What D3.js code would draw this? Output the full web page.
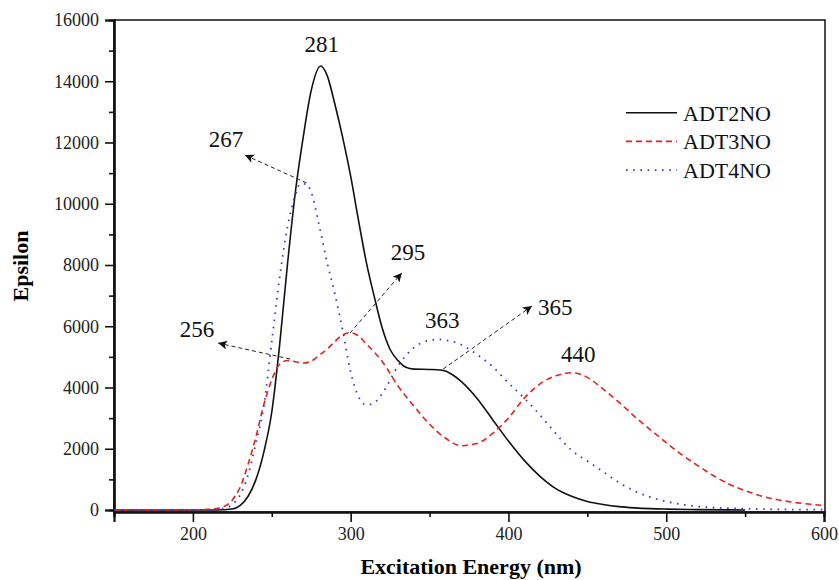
<!DOCTYPE html>
<html lang="en">
<head>
<meta charset="UTF-8">
<title>Epsilon vs excitation energy</title>
<script src="https://d3js.org/d3.v7.min.js"></script>
<style>
  body { margin: 0; background: #fff; }
  svg, svg text { font-family: "Liberation Serif", "Times New Roman", serif !important; }
  .tick text { font-size: 18px; fill: #222; }
  .axis-title { font-size: 22px; font-weight: bold; }
  .note { font-size: 23px; fill: #111; }
  .legend text { font-size: 22px; fill: #111; }
</style>
</head>
<body>
<div id="container"></div>
<script>
// wavelengths (nm) and epsilon values
const adt2Wl = [150, 170, 190, 210, 220, 225, 230, 235, 240, 245, 250, 255, 260, 265, 270, 275, 281, 285, 290, 295, 300, 305, 310, 315, 320, 325, 330, 335, 340, 350, 355, 360, 365, 370, 380, 390, 400, 410, 420, 430, 440, 450, 460, 470, 480, 490, 500, 520, 550];
const adt2Eps = [0, 0, 0, 0, 10, 30, 150, 450, 1000, 1900, 3200, 5400, 8050, 10400, 12200, 13700, 14500, 14200, 13250, 12150, 10900, 9450, 8070, 6960, 5940, 5240, 4880, 4660, 4600, 4590, 4580, 4540, 4400, 4200, 3650, 2950, 2250, 1620, 1100, 700, 450, 280, 180, 110, 70, 45, 30, 12, 0];

const adt3Wl = [150, 170, 190, 210, 220, 225, 230, 235, 240, 245, 250, 255, 260, 265, 270, 275, 280, 285, 290, 295, 300, 305, 310, 320, 330, 340, 350, 360, 370, 380, 390, 400, 410, 420, 430, 440, 450, 460, 470, 480, 490, 500, 510, 520, 530, 540, 550, 560, 570, 580, 590, 600];
const adt3Eps = [0, 0, 0, 20, 120, 330, 750, 1500, 2400, 3450, 4250, 4760, 4880, 4840, 4800, 4860, 5050, 5250, 5500, 5720, 5790, 5680, 5420, 4850, 4050, 3400, 2800, 2350, 2100, 2170, 2500, 3000, 3650, 4120, 4380, 4480, 4330, 3950, 3520, 3050, 2620, 2200, 1800, 1450, 1120, 840, 630, 460, 340, 255, 195, 150];

const adt4Wl = [150, 170, 190, 210, 220, 225, 230, 235, 240, 245, 250, 255, 260, 265, 268, 272, 275, 280, 285, 290, 295, 300, 305, 310, 315, 320, 330, 340, 350, 355, 360, 370, 380, 390, 400, 410, 420, 430, 440, 450, 460, 470, 480, 490, 500, 510, 520, 540, 560, 580, 600];
const adt4Eps = [0, 0, 0, 0, 60, 180, 500, 1150, 2200, 3400, 5500, 7600, 9250, 10300, 10650, 10640, 10380, 9300, 8100, 7050, 5850, 4500, 3700, 3430, 3500, 3800, 4700, 5300, 5540, 5570, 5550, 5400, 5080, 4680, 4150, 3650, 3100, 2500, 1950, 1600, 1250, 900, 620, 420, 280, 180, 115, 60, 30, 15, 10];

const seriesNames = ["ADT2NO", "ADT3NO", "ADT4NO"];

// peak labels: [text, wavelength, epsilon] (text anchored at its middle, baseline)
const peakLabels = [
  ["281", 281.7, 14950],
  ["267", 221, 11850],
  ["295", 336.4, 8160],
  ["256", 202.6, 5650],
  ["363", 358, 5940],
  ["365", 429.6, 6370],
  ["440", 444.2, 4830]
];
// arrows: [from wl, from eps, to wl, to eps]
const arrows = [
  [272, 10680, 233, 11590],
  [261.6, 4930, 216, 5450],
  [299.6, 5780, 332.4, 7740],
  [358.6, 4600, 414.9, 6660]
];

const xTicks = [200, 300, 400, 500, 600];
const yTicks = [0, 2000, 4000, 6000, 8000, 10000, 12000, 14000, 16000];

const width = 839, height = 580;
const mLeft = 114, mRight = 824, mTop = 20, mBottom = 510;

const svg = d3.select("#container").append("svg")
  .attr("width", width)
  .attr("height", height);

const x = d3.scaleLinear().domain([150, 600]).range([mLeft, mRight]);
const y = d3.scaleLinear().domain([0, 16000]).range([mBottom, mTop]);

// arrow marker
svg.append("defs").append("marker")
  .attr("id", "head")
  .attr("viewBox", "0 0 10 10")
  .attr("refX", 10).attr("refY", 5)
  .attr("markerWidth", 14).attr("markerHeight", 9)
  .attr("markerUnits", "userSpaceOnUse")
  .attr("orient", "auto")
  .append("path")
  .attr("d", "M0,0 L10,5 L0,10 L2.5,5 Z")
  .attr("fill", "#111");

// frame
svg.append("rect")
  .attr("x", mLeft).attr("y", mTop)
  .attr("width", x(600) - mLeft + 1).attr("height", mBottom + 2 - mTop)
  .attr("fill", "none").attr("stroke", "#111").attr("stroke-width", 1.5);

// x axis
svg.append("g").attr("class", "axis").attr("transform", `translate(0,${mBottom + 2})`)
  .call(d3.axisBottom(x).tickValues(xTicks).tickSize(10).tickPadding(5).tickFormat(d3.format("d")));
svg.append("g").attr("class", "axis").attr("transform", `translate(0,${mBottom + 2})`)
  .call(d3.axisBottom(x).tickValues([150, 250, 350, 450, 550]).tickSize(5).tickFormat(""));

// y axis
svg.append("g").attr("class", "axis").attr("transform", `translate(${mLeft},0)`)
  .call(d3.axisLeft(y).tickValues(yTicks).tickSize(9).tickPadding(6).tickFormat(d3.format("d")));
svg.append("g").attr("class", "axis").attr("transform", `translate(${mLeft},0)`)
  .call(d3.axisLeft(y).tickValues(d3.range(1000, 16000, 2000)).tickSize(5).tickFormat(""));

svg.selectAll(".axis").attr("font-family", null).attr("font-size", null);
svg.selectAll(".domain").attr("stroke", "#111").attr("stroke-width", 2.2);
svg.selectAll(".tick line").attr("stroke", "#111").attr("stroke-width", 1.6);

// axis titles
svg.append("text").attr("class", "axis-title")
  .attr("x", 471).attr("y", 574).attr("text-anchor", "middle")
  .text("Excitation Energy (nm)");
svg.append("text").attr("class", "axis-title")
  .attr("transform", "translate(28,266) rotate(-90)")
  .attr("text-anchor", "middle")
  .text("Epsilon");

// curves
const line = d3.line().x(d => x(d[0])).y(d => y(d[1])).curve(d3.curveMonotoneX);
const series = [
  { wl: adt2Wl, eps: adt2Eps, color: "#111", dash: null, w: 1.6 },
  { wl: adt3Wl, eps: adt3Eps, color: "#e2231e", dash: "6,4", w: 1.6 },
  { wl: adt4Wl, eps: adt4Eps, color: "#3a3ac8", dash: "1.6,5.6", w: 1.8 }
];
series.forEach(s => {
  svg.append("path")
    .attr("d", line(d3.zip(s.wl, s.eps)))
    .attr("fill", "none")
    .attr("stroke", s.color)
    .attr("stroke-width", s.w)
    .attr("stroke-dasharray", s.dash);
});

// arrows
svg.selectAll(".arrow").data(arrows).enter().append("line")
  .attr("class", "arrow")
  .attr("x1", d => x(d[0])).attr("y1", d => y(d[1]))
  .attr("x2", d => x(d[2])).attr("y2", d => y(d[3]))
  .attr("stroke", "#222").attr("stroke-width", 1)
  .attr("stroke-dasharray", "4,3")
  .attr("marker-end", "url(#head)");

// peak labels
svg.selectAll(".note").data(peakLabels).enter().append("text")
  .attr("class", "note")
  .attr("x", d => x(d[1])).attr("y", d => y(d[2]))
  .attr("text-anchor", "middle")
  .text(d => d[0]);

// legend
const legend = svg.append("g").attr("class", "legend");
series.forEach((s, i) => {
  const ly = 112.7 + i * 28.7;
  legend.append("line")
    .attr("x1", 626).attr("x2", 677).attr("y1", ly).attr("y2", ly)
    .attr("stroke", s.color).attr("stroke-width", s.w)
    .attr("stroke-dasharray", s.dash);
  legend.append("text")
    .attr("x", 683).attr("y", ly + 8)
    .text(seriesNames[i]);
});
</script>
</body>
</html>
